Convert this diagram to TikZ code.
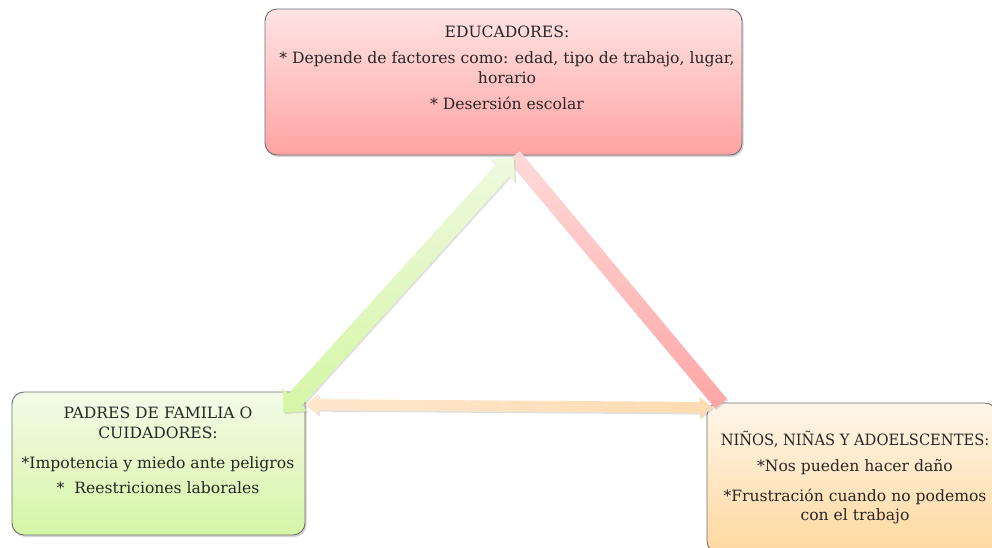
\documentclass[tikz,border=0pt]{standalone}
\usepackage{fontspec}
\setmainfont{DejaVu Serif}
\usetikzlibrary{arrows.meta,shadows,calc}
\definecolor{redtop}{HTML}{FFE4E4}
\definecolor{redbot}{HTML}{FFA3A3}
\definecolor{greentop}{HTML}{F4FBE8}
\definecolor{greenbot}{HTML}{D6F5A6}
\definecolor{orangetop}{HTML}{FFF6EA}
\definecolor{orangebot}{HTML}{FFD89E}
\definecolor{edge}{HTML}{6E6E6E}
\definecolor{gatop}{HTML}{EEF9DE}
\definecolor{gabot}{HTML}{D6F6A6}
\definecolor{patop}{HTML}{FFDADA}
\definecolor{pabot}{HTML}{FFA6A6}
\definecolor{oaleft}{HTML}{FFE7CC}
\definecolor{oaright}{HTML}{FFDCB2}
% double-headed fat arrow: #1 from, #2 to, #3 half shaft, #4 half head, #5 head length, #6 style
\newcommand\fatdblarrow[6]{%
  \coordinate (hA) at ($(#1)!#5!(#2)$);
  \coordinate (hB) at ($(#2)!#5!(#1)$);
  \path[#6] (#1) -- ($(hA)!#4!90:(#2)$) -- ($(hA)!#3!90:(#2)$)
    -- ($(hB)!#3!-90:(#1)$) -- ($(hB)!#4!-90:(#1)$) -- (#2)
    -- ($(hB)!#4!90:(#1)$) -- ($(hB)!#3!90:(#1)$)
    -- ($(hA)!#3!-90:(#2)$) -- ($(hA)!#4!-90:(#2)$) -- cycle;}
% plain fat band: #1 from, #2 to, #3 half width, #4 style
\newcommand\fatband[4]{%
  \path[#4] ($(#1)!#3!90:(#2)$) -- ($(#2)!#3!-90:(#1)$)
    -- ($(#2)!#3!90:(#1)$) -- ($(#1)!#3!-90:(#2)$) -- cycle;}
\begin{document}
\begin{tikzpicture}[x=1pt,y=-1pt,
  box/.style={draw=edge, line width=0.9pt, rounded corners=12pt, inner sep=0pt,
    drop shadow={shadow xshift=1.5pt, shadow yshift=-2pt, opacity=0.35}},
  arrowshade/.style={drop shadow={shadow xshift=1.2pt, shadow yshift=-1.5pt, opacity=0.25}},
  txt/.style={align=center, inner sep=0pt, font=\fontsize{15.6}{19.5}\selectfont, text=black!85}]
\useasboundingbox (0,0) rectangle (992,547);
% boxes
\node[box, minimum width=477pt, minimum height=146pt, top color=redtop, bottom color=redbot] (edu) at (503.5,82) {};
\node[box, minimum width=293pt, minimum height=143pt, top color=greentop, bottom color=greenbot] (pad) at (158.5,463.5) {};
\node[box, minimum width=290pt, minimum height=150pt, top color=orangetop, bottom color=orangebot] (nin) at (852,478) {};
% arrow end points, taken from the boxes
\coordinate (eduP) at ($(edu.south)+(10.5,0.5)$);
\coordinate (ninP) at ($(nin.north west)+(14.5,1)$);
\coordinate (eduG) at ($(edu.south)+(10.5,2.5)$);
\coordinate (padG) at ($(pad.north east)+(-22,21)$);
\coordinate (padO) at ($(pad.north east)+(0,13)$);
\coordinate (ninO) at ($(nin.north west)+(6,5)$);
% arrows
\fatband{eduP}{ninP}{7.5pt}{arrowshade, top color=patop, bottom color=pabot}
\fatdblarrow{padG}{eduG}{9pt}{16.5pt}{17pt}{arrowshade, top color=gatop, bottom color=gabot}
\fatdblarrow{padO}{ninO}{5.5pt}{10.5pt}{13pt}{arrowshade, left color=oaleft, right color=oaright}
% texts
\node[txt, anchor=north] (eduT) at (507,26) {EDUCADORES:\\[6.5pt]* Depende de factores como: edad, tipo de trabajo, lugar,\\horario\\[6.5pt]* Desersión escolar};
\node[txt, anchor=north] (padT) at (158,407) {PADRES DE FAMILIA O\\CUIDADORES:\\[10.5pt]*Impotencia y miedo ante peligros\\[5.5pt]*\ \ Reestriciones laborales};
\node[txt, anchor=north] (ninT) at (855,430.5) {\scalebox{0.94}[1]{NIÑOS, NIÑAS Y ADOELSCENTES:}\\[6.5pt]*Nos pueden hacer daño\\[10.5pt]*Frustración cuando no podemos\\con el trabajo};
\end{tikzpicture}
\end{document}
